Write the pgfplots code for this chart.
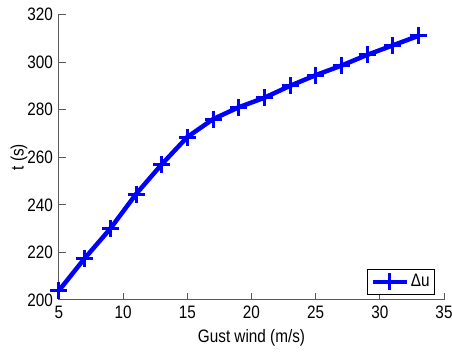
\documentclass[border=0pt]{standalone}
\usepackage{pgfplots}
\pgfplotsset{compat=1.18}
\usepackage{fontspec}
\setmainfont{Liberation Sans}[FakeStretch=0.85]
\begin{document}
\fontsize{18}{21}\selectfont
\begin{tikzpicture}
\begin{axis}[
  name=ax,
  scale only axis,
  width=385pt, height=285.5pt,
  xmin=5, xmax=35, ymin=200, ymax=320,
  xtick={5,10,...,35}, ytick={200,220,...,320},
  axis x line*=bottom, axis y line*=left,
  axis line style={black!65, line width=1pt},
  tick style={black!65, line width=1pt},
  tick align=inside, major tick length=7pt,
  /pgf/number format/assume math mode=true,
  ticklabel style={font=\fontsize{18}{21}\selectfont},
  label style={font=\fontsize{18}{21}\selectfont},
  xlabel={Gust wind (m/s)}, ylabel={t (s)},
  xlabel style={at={(axis description cs:0.5,-0.133)}, anchor=center},
  ylabel style={at={(axis description cs:-0.104,0.5)}, anchor=center},
  legend style={at={(0.977,0.0175)}, anchor=south east, draw=black, line width=1pt,
    font=\fontsize{18}{21}\selectfont, inner sep=3pt},
  legend cell align=left,
  legend image code/.code={\draw[mark repeat=2,mark phase=2] plot coordinates {(0cm,0cm)(0.6cm,0cm)(1.2cm,0cm)};},
  clip=false,
]
\addplot[color={rgb,255:red,0;green,0;blue,255}, line width=4.5pt, mark=+, mark size=8.5pt,
  mark options={line width=3pt}]
coordinates {
(5,204)(7,217.5)(9,230)(11,244.5)(13,257)(15,268.5)(17,276)(19,281)(21,285)(23,290)(25,294.5)(27,298.5)(29,303)(31,307)(33,311)
};
\addlegendentry{Δu}
\end{axis}
\pgfresetboundingbox
\path[use as bounding box] ([shift={(-59pt,-52pt)}]ax.south west) rectangle ++(452pt,352pt);
\end{tikzpicture}
\end{document}
